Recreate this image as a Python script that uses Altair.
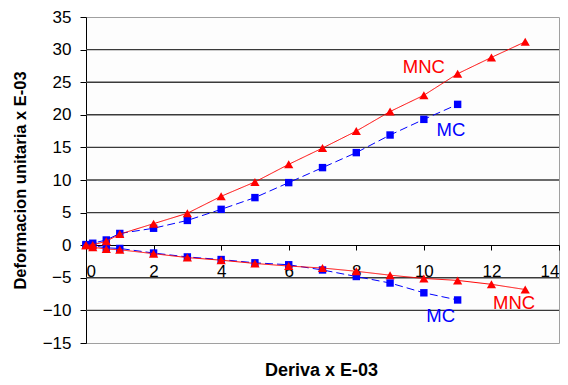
import altair as alt
import pandas as pd

# ---- data ----
x_mnc = [0, 0.2, 0.6, 1, 2, 3, 4, 5, 6, 7, 8, 9, 10, 11, 12, 13]
mnc_up = [0, 0.05, 0.6, 1.7, 3.3, 4.9, 7.5, 9.7, 12.4, 14.9, 17.5, 20.5, 23.0, 26.3, 28.8, 31.2]
mnc_down = [0, -0.3, -0.6, -0.7, -1.3, -1.9, -2.3, -2.8, -3.2, -3.5, -4.0, -4.6, -5.1, -5.4, -6.0, -6.8]

x_mc = [0, 0.2, 0.6, 1, 2, 3, 4, 5, 6, 7, 8, 9, 10, 11]
mc_up = [0.1, 0.3, 0.8, 1.8, 2.6, 3.8, 5.5, 7.3, 9.6, 11.9, 14.2, 16.9, 19.3, 21.6]
mc_down = [0, -0.1, -0.4, -0.5, -1.2, -1.8, -2.2, -2.7, -3.0, -3.8, -4.8, -5.8, -7.3, -8.4]

label_text = ["MNC", "MC", "MC", "MNC"]
label_x = [10.0, 10.8, 10.5, 12.67]
label_y = [27.3, 17.7, -10.9, -8.8]
label_serie = ["MNC", "MC", "MC", "MNC"]

grid_vals = [-10, -5, 5, 10, 15, 20, 25, 30]
x_ticks = [0, 2, 4, 6, 8, 10, 12, 14]
y_ticks = [-15, -10, -5, 0, 5, 10, 15, 20, 25, 30, 35]

FONT = "Liberation Sans"
RED = "#ff0000"
BLUE = "#0000ff"

rows = []
for x, y in zip(x_mnc, mnc_up):
    rows.append({"x": x, "y": y, "serie": "MNC", "rama": "up"})
for x, y in zip(x_mnc, mnc_down):
    rows.append({"x": x, "y": y, "serie": "MNC", "rama": "down"})
for x, y in zip(x_mc, mc_up):
    rows.append({"x": x, "y": y, "serie": "MC", "rama": "up"})
for x, y in zip(x_mc, mc_down):
    rows.append({"x": x, "y": y, "serie": "MC", "rama": "down"})
df = pd.DataFrame(rows)

labels = pd.DataFrame({"text": label_text, "x": label_x, "y": label_y, "serie": label_serie})
grid = pd.DataFrame({"y": grid_vals})

xscale = alt.Scale(domain=[0, 14], nice=False, zero=False)
yscale = alt.Scale(domain=[-15, 35], nice=False, zero=False)

x_axis = alt.Axis(
    values=x_ticks, orient="bottom", offset=-98, grid=False, labelOverlap=False,
    domainColor="black", tickColor="black", tickSize=5, labelPadding=13,
    labelFontSize=17, labelFont=FONT, labelColor="black",
    title="Deriva x E-03", titleFont=FONT, titleFontSize=18, titleFontWeight="bold",
    titleColor="black", titleX=235, titleY=125, titleBaseline="middle", titleAlign="center",
)
y_axis = alt.Axis(
    values=y_ticks, orient="left", grid=False, labelOverlap=False,
    domainColor="black", tickColor="black", tickSize=6, labelPadding=9,
    labelFontSize=17, labelFont=FONT, labelColor="black",
    title="Deformacion unitaria x E-03", titleFont=FONT, titleFontSize=16.5,
    titleFontWeight="bold", titleColor="black", titleAngle=270,
    titleX=-66, titleY=163, titleBaseline="middle", titleAlign="center",
)

X = alt.X("x:Q", scale=xscale, axis=x_axis)
Y = alt.Y("y:Q", scale=yscale, axis=y_axis)

base = alt.Chart(df)

gridlines = alt.Chart(grid).mark_rule(color="#3a3a3a", strokeWidth=1.4).encode(y=Y)

def series_layers(name, color, shape, size, dash):
    d = base.transform_filter(alt.datum.serie == name)
    line = d.mark_line(color=color, strokeWidth=1, strokeDash=dash).encode(
        x=X, y=Y, detail="rama:N", order="x:Q",
    )
    pts = d.mark_point(shape=shape, filled=True, color=color, size=size, opacity=1).encode(
        x=X, y=Y,
    )
    return [line, pts]

mc_layers = series_layers("MC", BLUE, "square", 55, [8, 4])
mnc_layers = series_layers("MNC", RED, "triangle-up", 85, [1, 0])

text = alt.Chart(labels).mark_text(font=FONT, fontSize=18.5, align="center", baseline="middle").encode(
    x=X, y=Y,
    text="text:N",
    color=alt.Color("serie:N", scale=alt.Scale(domain=["MNC", "MC"], range=[RED, BLUE]), legend=None),
)

chart = alt.layer(gridlines, *mc_layers, *mnc_layers, text).properties(
    width=473, height=326,
    autosize=alt.AutoSizeParams(type="none"),
    padding={"left": 86, "top": 17, "right": 9, "bottom": 42},
    background="white",
).configure_view(stroke="#a0a0a0", strokeWidth=1, fill="#fdfdfd").configure_axis(labelOverlap=False)

chart.save("out.html", embed_options={"renderer": "svg", "actions": False})
